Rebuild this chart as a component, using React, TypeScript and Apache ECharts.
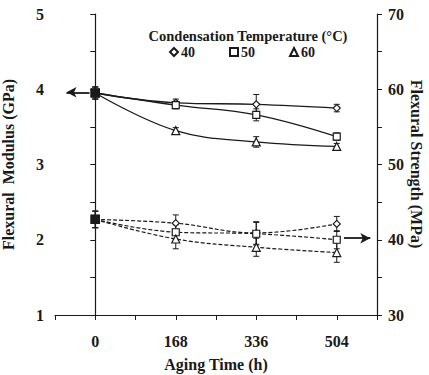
import React, { useEffect, useRef } from "react";
import * as echarts from "echarts";

const agingTime = [0, 168, 336, 504];
const xTickLabels = ["0", "168", "336", "504"];
const tempNames = ["40", "50", "60"];

const modulus40 = [3.95, 3.82, 3.8, 3.75];
const modulus50 = [3.95, 3.79, 3.66, 3.37];
const modulus60 = [3.95, 3.45, 3.3, 3.24];
const modulusErr40 = [0.08, 0.05, 0.13, 0.05];
const modulusErr50 = [0.08, 0.05, 0.08, 0.05];
const modulusErr60 = [0.08, 0.04, 0.07, 0.04];

const strength40 = [42.7, 42.2, 40.9, 42.1];
const strength50 = [42.7, 41.0, 40.8, 40.0];
const strength60 = [42.7, 40.1, 39.0, 38.3];
const strengthErr40 = [1.1, 1.1, 1.5, 1.0];
const strengthErr50 = [1.1, 1.0, 1.5, 1.2];
const strengthErr60 = [1.1, 1.3, 1.2, 1.3];

const FONT = "Liberation Serif";
const INK = "#1a1a1a";

const symbolsOf = ["diamond", "rect", "triangle"];

function markerData(vals: number[]) {
  return vals.map((v, i) =>
    i === 0
      ? {
          value: [agingTime[i], v],
          symbol: "rect",
          symbolSize: 8,
          itemStyle: { color: INK, borderColor: INK },
        }
      : [agingTime[i], v]
  );
}

function errData(vals: number[], errs: number[]) {
  return vals.map((v, i) => [agingTime[i], v - errs[i], v + errs[i]]);
}

function errorSeries(vals: number[], errs: number[], yAxisIndex: number) {
  return {
    type: "custom",
    yAxisIndex,
    silent: true,
    z: 1,
    data: errData(vals, errs),
    encode: { x: 0, y: [1, 2] },
    renderItem: (params: any, api: any) => {
      const x = api.value(0);
      const lo = api.coord([x, api.value(1)]);
      const hi = api.coord([x, api.value(2)]);
      const cap = 3;
      const style = { stroke: INK, lineWidth: 1 };
      return {
        type: "group",
        children: [
          { type: "line", shape: { x1: lo[0], y1: lo[1], x2: hi[0], y2: hi[1] }, style },
          { type: "line", shape: { x1: lo[0] - cap, y1: lo[1], x2: lo[0] + cap, y2: lo[1] }, style },
          { type: "line", shape: { x1: hi[0] - cap, y1: hi[1], x2: hi[0] + cap, y2: hi[1] }, style },
        ],
      };
    },
  };
}

function curveSeries(vals: number[], yAxisIndex: number, dashed: boolean, extra: any = {}) {
  return {
    type: "line",
    yAxisIndex,
    data: vals.map((v, i) => [agingTime[i], v]),
    smooth: 0.4,
    showSymbol: false,
    symbol: "none",
    silent: true,
    z: 2,
    lineStyle: { color: INK, width: dashed ? 1.2 : 1.3, type: dashed ? [4, 2] : "solid" },
    ...extra,
  };
}

function markerSeries(name: string | null, vals: number[], sym: string, yAxisIndex: number) {
  return {
    type: "scatter",
    name: name ?? undefined,
    yAxisIndex,
    symbol: sym,
    symbolSize: sym === "triangle" ? 8 : 7,
    z: 5,
    itemStyle: { color: "#fff", borderColor: INK, borderWidth: 1.2, opacity: 1 },
    data: markerData(vals),
  };
}

export default function App() {
  const ref = useRef<HTMLDivElement>(null);
  useEffect(() => {
    if (!ref.current) return;
    const chart = echarts.init(ref.current, null, { renderer: "svg" });
    const modAll = [modulus40, modulus50, modulus60];
    const modErrAll = [modulusErr40, modulusErr50, modulusErr60];
    const strAll = [strength40, strength50, strength60];
    const strErrAll = [strengthErr40, strengthErr50, strengthErr60];

    const arrowStyle = {
      silent: true,
      symbol: ["none", "arrow"],
      symbolSize: [8, 10],
      label: { show: false },
      lineStyle: { color: INK, width: 1.8, type: "solid" },
    };

    const series: any[] = [];
    modAll.forEach((vals, k) => {
      series.push(errorSeries(vals, modErrAll[k], 0));
      series.push(
        curveSeries(
          vals,
          0,
          false,
          k === 0
            ? { markLine: { ...arrowStyle, data: [[{ coord: [-12, 3.96] }, { coord: [-60, 3.96] }]] } }
            : {}
        )
      );
    });
    strAll.forEach((vals, k) => {
      series.push(errorSeries(vals, strErrAll[k], 1));
      series.push(
        curveSeries(
          vals,
          1,
          true,
          k === 0
            ? { markLine: { ...arrowStyle, data: [[{ coord: [519, 40.2] }, { coord: [574, 40.2] }]] } }
            : {}
        )
      );
    });
    modAll.forEach((vals, k) => series.push(markerSeries(tempNames[k], vals, symbolsOf[k], 0)));
    strAll.forEach((vals, k) => series.push(markerSeries(null, vals, symbolsOf[k], 1)));

    const labelStyle = { fontFamily: FONT, fontWeight: "bold" as const, fontSize: 16, color: INK };

    chart.setOption({
      animation: false,
      backgroundColor: "#fff",
      textStyle: { fontFamily: FONT },
      title: {
        text: "Condensation Temperature (°C)",
        left: 243,
        top: 23,
        textAlign: "center",
        textStyle: { fontFamily: FONT, fontWeight: "bold", fontSize: 14.5, color: INK },
      },
      legend: {
        data: tempNames,
        left: 164,
        top: 40,
        itemGap: 34,
        itemWidth: 8,
        itemHeight: 8,
        selectedMode: false,
        textStyle: { fontFamily: FONT, fontWeight: "bold", fontSize: 14, color: INK, padding: [0, 0, 0, -2] },
      },
      graphic: [
        {
          type: "text",
          x: 416,
          y: 164,
          rotation: -Math.PI / 2,
          style: {
            text: "Flexural Strength (MPa)",
            fontFamily: FONT,
            fontWeight: "bold",
            fontSize: 16,
            fill: INK,
            textAlign: "center",
            textVerticalAlign: "middle",
          },
        },
      ],
      grid: { left: 55, right: 52, top: 14, bottom: 60, containLabel: false, outerBoundsMode: "none" },
      xAxis: {
        type: "value",
        min: -84,
        max: 588,
        interval: 84,
        name: "Aging Time (h)",
        nameLocation: "middle",
        nameGap: 41,
        nameTextStyle: { ...labelStyle, fontSize: 16 },
        axisLine: { lineStyle: { color: INK, width: 1.2 } },
        axisTick: { show: true, length: 5, lineStyle: { color: INK } },
        splitLine: { show: false },
        axisLabel: {
          ...labelStyle,
          margin: 18,
          formatter: (v: number) => {
            const idx = agingTime.indexOf(v);
            return idx >= 0 ? xTickLabels[idx] : "";
          },
        },
      },
      yAxis: [
        {
          type: "value",
          min: 1,
          max: 5,
          interval: 0.5,
          name: "Flexural  Modulus (GPa)",
          nameLocation: "middle",
          nameGap: 39,
          nameRotate: 90,
          nameTextStyle: { ...labelStyle, fontSize: 16 },
          axisLine: { show: true, lineStyle: { color: INK, width: 1.2 } },
          axisTick: { show: true, length: 5, lineStyle: { color: INK } },
          splitLine: { show: false },
          axisLabel: {
            ...labelStyle,
            margin: 11,
            formatter: (v: number) => (Number.isInteger(v) ? String(v) : ""),
          },
        },
        {
          type: "value",
          min: 30,
          max: 70,
          interval: 5,
          axisLine: { show: true, lineStyle: { color: INK, width: 1.2 } },
          axisTick: { show: true, length: 5, lineStyle: { color: INK } },
          splitLine: { show: false },
          axisLabel: {
            ...labelStyle,
            margin: 11,
            formatter: (v: number) => (v % 10 === 0 ? String(v) : ""),
          },
        },
      ],
      series,
    });
    return () => chart.dispose();
  }, []);
  return <div ref={ref} style={{ width: 429, height: 375, position: "absolute", left: 0, top: 0 }} />;
}
